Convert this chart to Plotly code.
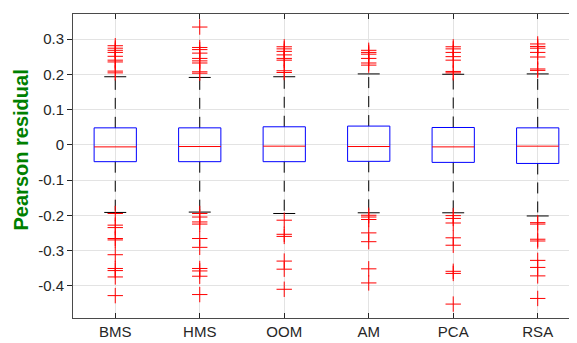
import plotly.graph_objects as go

categories = ["BMS", "HMS", "OOM", "AM", "PCA", "RSA"]
q1 = [-0.048, -0.048, -0.048, -0.047, -0.050, -0.053]
medians = [-0.006, -0.005, -0.004, -0.005, -0.006, -0.004]
q3 = [0.048, 0.048, 0.051, 0.053, 0.049, 0.048]
lower_whisker = [-0.192, -0.191, -0.195, -0.193, -0.193, -0.202]
upper_whisker = [0.193, 0.191, 0.193, 0.201, 0.200, 0.201]

outliers_bms = [0.281, 0.274, 0.268, 0.262, 0.251, 0.240, 0.235, 0.209, 0.204,
                -0.195, -0.228, -0.235, -0.266, -0.270, -0.312, -0.351, -0.357, -0.375, -0.428]
outliers_hms = [0.334, 0.276, 0.270, 0.260, 0.245, 0.238, 0.232, 0.207, 0.203,
                -0.195, -0.205, -0.219, -0.225, -0.266, -0.291, -0.351, -0.358, -0.373, -0.425]
outliers_oom = [0.278, 0.272, 0.265, 0.255, 0.245, 0.240, 0.210, 0.205,
                -0.214, -0.254, -0.260, -0.330, -0.353, -0.410]
outliers_am = [0.268, 0.262, 0.257, 0.245, 0.232, 0.226,
               -0.200, -0.205, -0.212, -0.250, -0.275, -0.352, -0.392]
outliers_pca = [0.278, 0.272, 0.262, 0.250, 0.240, 0.208, 0.204,
                -0.201, -0.209, -0.222, -0.264, -0.285, -0.359, -0.365, -0.452]
outliers_rsa = [0.286, 0.279, 0.274, 0.262, 0.249, 0.215, 0.211,
                -0.221, -0.225, -0.268, -0.273, -0.328, -0.348, -0.372, -0.436]
outliers = [outliers_bms, outliers_hms, outliers_oom, outliers_am, outliers_pca, outliers_rsa]

y_ticks = [-0.4, -0.3, -0.2, -0.1, 0, 0.1, 0.2, 0.3]
y_ticktext = ["-0.4", "-0.3", "-0.2", "-0.1", "0", "0.1", "0.2", "0.3"]
y_label = "Pearson residual"

BOX_HW = 0.25
CAP_HW = 0.13
BLUE = "#0000ff"
RED = "#ff0000"

fig = go.Figure()

for i, cat in enumerate(categories):
    x = i + 1
    # whiskers (dashed, from box outward)
    fig.add_trace(go.Scatter(x=[x, x], y=[q3[i], upper_whisker[i]], mode="lines",
                             line=dict(color="black", width=1, dash="11px,8px"),
                             showlegend=False, hoverinfo="skip"))
    fig.add_trace(go.Scatter(x=[x, x], y=[q1[i], lower_whisker[i]], mode="lines",
                             line=dict(color="black", width=1, dash="11px,8px"),
                             showlegend=False, hoverinfo="skip"))
    # caps
    for w in (upper_whisker[i], lower_whisker[i]):
        fig.add_trace(go.Scatter(x=[x - CAP_HW, x + CAP_HW], y=[w, w], mode="lines",
                                 line=dict(color="black", width=1),
                                 showlegend=False, hoverinfo="skip"))
    # box
    fig.add_trace(go.Scatter(x=[x - BOX_HW, x + BOX_HW, x + BOX_HW, x - BOX_HW, x - BOX_HW],
                             y=[q1[i], q1[i], q3[i], q3[i], q1[i]], mode="lines",
                             line=dict(color=BLUE, width=1),
                             showlegend=False, hoverinfo="skip"))
    # median
    fig.add_trace(go.Scatter(x=[x - BOX_HW, x + BOX_HW], y=[medians[i], medians[i]], mode="lines",
                             line=dict(color=RED, width=1),
                             showlegend=False, hoverinfo="skip"))
    # outliers
    fig.add_trace(go.Scatter(x=[x] * len(outliers[i]), y=outliers[i], mode="markers",
                             marker=dict(symbol="cross-thin", size=11, line=dict(color=RED, width=1)),
                             showlegend=False, hoverinfo="skip"))

# invisible trace to activate right-side axis ticks
fig.add_trace(go.Scatter(x=[1], y=[0], yaxis="y2", mode="markers",
                         marker=dict(opacity=0), showlegend=False, hoverinfo="skip"))

font_family = "Liberation Sans, Arial, sans-serif"
# the page body adds an 8px offset; figure size/margins compensate for it
fig.update_layout(
    width=569, height=335,
    margin=dict(l=65, r=0, t=6, b=25),
    paper_bgcolor="white", plot_bgcolor="white",
    font=dict(family=font_family, size=15, color="#262626"),
    xaxis=dict(range=[0.5, 6.465], tickvals=[1, 2, 3, 4, 5, 6], ticktext=categories,
               showgrid=True, gridcolor="#e3e3e3", gridwidth=1,
               showline=True, linecolor="#4a4a4a", linewidth=1, mirror="ticks",
               ticks="inside", ticklen=5, tickcolor="#262626", zeroline=False,
               tickfont=dict(size=15, color="#262626")),
    yaxis=dict(range=[-0.4915, 0.371], tickvals=y_ticks, ticktext=y_ticktext,
               showgrid=True, gridcolor="#e3e3e3", gridwidth=1,
               showline=True, linecolor="#4a4a4a", linewidth=1, mirror=False,
               ticks="outside", ticklen=5, tickcolor="#262626", zeroline=False,
               tickfont=dict(size=15, color="#262626")),
    yaxis2=dict(overlaying="y", side="right", matches="y", range=[-0.4915, 0.371],
                tickvals=y_ticks, showticklabels=False, showgrid=False, zeroline=False,
                ticks="inside", ticklen=4, tickcolor="#262626", showline=False),
    annotations=[dict(text="<b>" + y_label + "</b>", textangle=-90,
                      xref="paper", yref="paper", x=-0.104, y=0.553,
                      xanchor="center", yanchor="middle", showarrow=False,
                      font=dict(size=20, color="#008000", family=font_family))],
)

fig.write_html("out.html")
